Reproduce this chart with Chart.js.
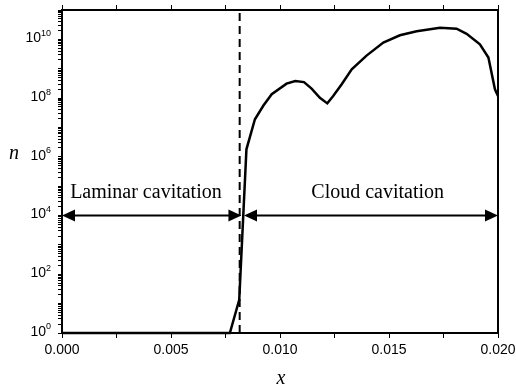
<!DOCTYPE html>
<html lang="en">
<head>
<meta charset="UTF-8">
<title>n vs x</title>
<style>
  html, body { margin: 0; padding: 0; background: #fff; }
</style>
</head>
<body>
<canvas id="myChart" width="516" height="391"></canvas>
<script src="https://cdn.jsdelivr.net/npm/chart.js"></script>
<script>
// values
const xs = [0, 0.0077, 0.00813, 0.00846, 0.00885, 0.00924, 0.00962, 0.0103, 0.0107, 0.0111, 0.01145,
  0.01183, 0.01217, 0.01244, 0.01283, 0.01329, 0.01397, 0.01474, 0.0155, 0.01627, 0.01734, 0.0181,
  0.01856, 0.01917, 0.01956, 0.01986, 0.02]
const ns = [1, 1, 13.5, 1.8e6, 1.9e7, 5.6e7, 1.35e8, 3.1e8, 3.8e8, 3.5e8, 2.1e8,
  1.02e8, 6.6e7, 1.17e8, 2.95e8, 9.5e8, 2.8e9, 7.8e9, 1.38e10, 1.9e10, 2.5e10, 2.3e10,
  1.55e10, 6.8e9, 2.4e9, 2.0e8, 1.17e8]

const xLabelStep = 0.005
const xMinorStep = 0.0025
const yLabelExps = [0, 2, 4, 6, 8, 10]
const yMin = 1, yMax = 1e11

const cavX = 0.00815      // dashed boundary
const arrowY = 1e4
const laminar = { from: 0, to: 0.00823, textX: 0.00385, text: 'Laminar cavitation' }
const cloud = { from: 0.00835, to: 0.02, textX: 0.01448, text: 'Cloud cavitation' }

const sans = "'Liberation Sans', Arial, sans-serif"
const serif = "'Liberation Serif', 'Times New Roman', serif"

function xTickList() {
  let t = []
  for (let i = 0; i <= 8; i++) t.push({ value: +(i * xMinorStep).toFixed(4) })
  return t
}
function yTickList() {
  let t = []
  for (let e = 0; e <= 11; e++) {
    for (let m = 1; m <= 9; m++) {
      let v = m * Math.pow(10, e)
      if (v <= yMax) t.push({ value: v })
    }
  }
  return t
}

function arrowHead(ctx, tipX, y, dir) {
  // dir = -1 points left, +1 points right
  ctx.beginPath()
  ctx.moveTo(tipX, y)
  ctx.lineTo(tipX - dir * 13, y - 6)
  ctx.lineTo(tipX - dir * 13, y + 6)
  ctx.closePath()
  ctx.fill()
}

function drawSpan(ctx, xs_, y, span) {
  let a = xs_.getPixelForValue(span.from)
  let b = xs_.getPixelForValue(span.to)
  ctx.beginPath()
  ctx.moveTo(a + 6, y)
  ctx.lineTo(b - 6, y)
  ctx.stroke()
  arrowHead(ctx, a, y, -1)
  arrowHead(ctx, b, y, 1)
  ctx.font = '20px ' + serif
  ctx.textAlign = 'center'
  ctx.textBaseline = 'alphabetic'
  ctx.fillText(span.text, xs_.getPixelForValue(span.textX), y - 18)
}

const extras = {
  id: 'extras',
  afterDraw(chart) {
    const ctx = chart.ctx
    const xS = chart.scales.x
    const yS = chart.scales.y
    ctx.save()
    ctx.fillStyle = '#000'
    ctx.strokeStyle = '#000'

    // y labels with superscript exponents
    yLabelExps.forEach(e => {
      let py = yS.getPixelForValue(Math.pow(10, e))
      ctx.font = '9px ' + sans
      let ew = ctx.measureText(String(e)).width
      ctx.textAlign = 'left'
      ctx.textBaseline = 'middle'
      ctx.fillText(String(e), 51 - ew, py - 6)
      ctx.font = '14px ' + sans
      ctx.textAlign = 'right'
      ctx.fillText('10', 51 - ew, py - 1)
    })

    // axis titles
    ctx.font = 'italic 20px ' + serif
    ctx.textAlign = 'center'
    ctx.textBaseline = 'alphabetic'
    ctx.fillText('n', 14, 159)
    ctx.fillText('x', 281, 384)

    // region arrows
    ctx.lineWidth = 2
    let ay = yS.getPixelForValue(arrowY)
    drawSpan(ctx, xS, ay, laminar)
    drawSpan(ctx, xS, ay, cloud)
    ctx.restore()
  }
}

const ctx = document.getElementById('myChart')
const chart = new Chart(ctx, {
  type: 'scatter',
  data: {
    datasets: [
      {
        data: [{ x: cavX, y: yMin }, { x: cavX, y: yMax }],
        showLine: true,
        borderColor: '#000',
        borderWidth: 2,
        borderDash: [8, 5],
        pointRadius: 0,
      },
      {
        data: xs.map((x, i) => ({ x: x, y: ns[i] })),
        showLine: true,
        borderColor: '#000',
        borderWidth: 2.5,
        pointRadius: 0,
        tension: 0,
        clip: 4,
      },
    ]
  },
  options: {
    responsive: false,
    animation: false,
    layout: { padding: 0 },
    plugins: { legend: { display: false }, tooltip: { enabled: false } },
    scales: {
      x: {
        type: 'linear', position: 'bottom', min: 0, max: 0.02,
        afterBuildTicks: s => { s.ticks = xTickList() },
        afterFit: s => { s.height = 58; s.paddingLeft = 0; s.paddingRight = 0 },
        ticks: {
          autoSkip: false, maxRotation: 0, padding: 4, color: '#000',
          font: { family: sans, size: 14 },
          callback: v => {
            let k = v / xLabelStep
            return Math.abs(k - Math.round(k)) < 1e-6 ? v.toFixed(3) : ''
          }
        },
        grid: { drawOnChartArea: false, color: '#000', tickLength: 5, lineWidth: 1 },
        border: { color: '#000', width: 2 },
      },
      x2: {
        type: 'linear', position: 'top', min: 0, max: 0.02,
        afterBuildTicks: s => { s.ticks = xTickList() },
        afterFit: s => { s.height = 10; s.paddingLeft = 0; s.paddingRight = 0 },
        ticks: { display: false },
        grid: { drawOnChartArea: false, color: '#000', tickLength: 5, lineWidth: 1 },
        border: { color: '#000', width: 2 },
      },
      y: {
        type: 'logarithmic', position: 'left', min: yMin, max: yMax,
        afterBuildTicks: s => { s.ticks = yTickList() },
        afterFit: s => { s.width = 62; s.paddingTop = 0; s.paddingBottom = 0 },
        ticks: { display: false },
        grid: { drawOnChartArea: false, color: '#000', tickLength: 4, lineWidth: 1 },
        border: { color: '#000', width: 2 },
      },
      y2: {
        type: 'logarithmic', position: 'right', min: yMin, max: yMax,
        afterBuildTicks: s => { s.ticks = yTickList() },
        afterFit: s => { s.width = 18; s.paddingTop = 0; s.paddingBottom = 0 },
        ticks: { display: false },
        grid: { drawOnChartArea: false, drawTicks: false },
        border: { color: '#000', width: 2 },
      },
    }
  },
  plugins: [extras]
})
</script>
</body>
</html>
